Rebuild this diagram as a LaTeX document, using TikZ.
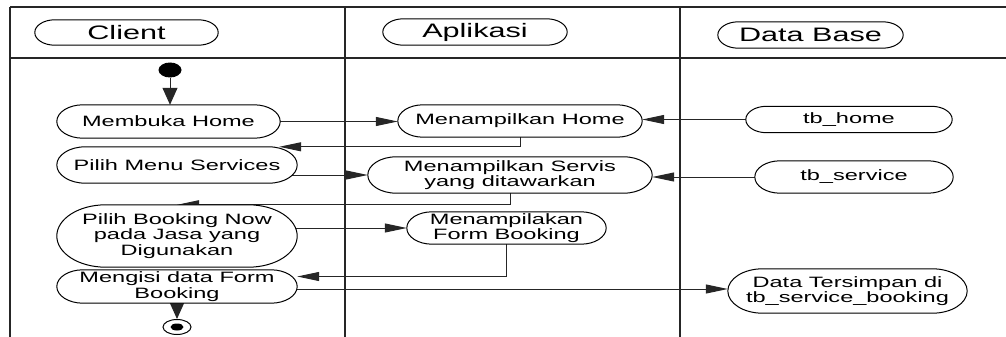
\documentclass[tikz,border=0pt]{standalone}
\usepackage{fontspec}
\setmainfont{Liberation Sans}[FakeStretch=1.57]
\usetikzlibrary{arrows.meta,calc,shapes.geometric}
\pgfdeclarelayer{lanes}
\pgfdeclarelayer{outlines}
\pgfsetlayers{lanes,outlines,main}

\tikzset{
  lane/.style={line width=1.5pt, draw=black!85},
  act/.style={rectangle, inner sep=0pt, align=center,
    font=\fontsize{15}{15.5}\selectfont},
  hdr/.style={rectangle, inner sep=0pt, font=\fontsize{19.5}{20}\selectfont},
  conn/.style={draw=black!85, line width=1pt},
  harrow/.style={conn, -{Triangle[length=22pt,width=9pt]}},
  varrow/.style={conn, -{Triangle[length=17pt,width=15pt]}},
}

% stadium outline with elliptical ends around a rectangular node
\newcommand\stadiumoutline[1]{%
  \draw[line width=1pt, fill=white] let \p1=(#1.north west), \p2=(#1.south east),
    \n1={(\y1-\y2)/2}, \n2={0.785*(\y1-\y2)} in
    (\x1+\n2,\y1) -- (\x2-\n2,\y1)
    arc[start angle=90, end angle=-90, x radius=\n2, y radius=\n1]
    -- (\x1+\n2,\y2)
    arc[start angle=270, end angle=90, x radius=\n2, y radius=\n1] -- cycle;}

\begin{document}
\begin{tikzpicture}[x=1pt, y=-1pt]
\useasboundingbox (0,0) rectangle (1006,337);

% swimlane headers
\node[hdr, minimum width=183pt, minimum height=25pt] (hc) at (126.5,32.5) {Client};
\node[hdr, minimum width=184pt, minimum height=26pt] (ha) at (475,32) {Aplikasi};
\node[hdr, minimum width=185pt, minimum height=26pt] (hd) at (810.5,35) {Data Base};

% Client activities
\node[act, minimum width=223pt, minimum height=33pt] (mb) at (168.5,121.5) {Membuka Home};
\node[act, minimum width=240pt, minimum height=36pt] (pms) at (177,165) {Pilih Menu Services};
\node[act, minimum width=240pt, minimum height=62pt] (pb) at (177,236) {Pilih Booking Now\\pada Jasa yang\\Digunakan};
\node[act, minimum width=240pt, minimum height=33pt] (mg) at (177,286.5) {Mengisi data Form\\Booking};

% Aplikasi activities
\node[act, minimum width=244pt, minimum height=32pt] (mh) at (520,121) {Menampilkan Home};
\node[act, minimum width=284pt, minimum height=36pt] (ms) at (510,175) {Menampilkan Servis\\yang ditawarkan};
\node[act, minimum width=199pt, minimum height=32pt] (mfb) at (506.5,228) {Menampilakan\\Form Booking};

% Data Base objects
\node[act, minimum width=206pt, minimum height=26pt] (tbh) at (849,119.5) {tb\_home};
\node[act, minimum width=198pt, minimum height=32pt] (tbs) at (854,177) {tb\_service};
\node[act, minimum width=239pt, minimum height=44pt] (dts) at (847.5,291) {Data Tersimpan di\\tb\_service\_booking};

% start and end states
\node[ellipse, fill=black, inner sep=0pt, minimum width=23pt, minimum height=15pt] (init) at (170,70) {};
\node[ellipse, draw, line width=1pt, fill=white, inner sep=0pt, minimum width=28pt, minimum height=15pt] (fin) at (177,327) {};
\fill (fin.center) ellipse[x radius=6.5pt, y radius=3.5pt];

\begin{pgfonlayer}{outlines}
  \foreach \nm in {hc,ha,hd,mb,pms,pb,mg,mh,ms,mfb,tbh,tbs,dts}
    {\stadiumoutline{\nm}}
\end{pgfonlayer}

\begin{pgfonlayer}{lanes}
  % lane frame
  \draw[lane] (10,7) -- (1006,7);
  \draw[lane] (10,58) -- (1006,58);
  \draw[lane] (10,7) -- (10,337);
  \draw[lane] (345,7) -- (345,337);
  \draw[lane] (680,7) -- (680,337);

  % control flow
  \draw[varrow] (init) -- (init |- mb.north);
  \draw[harrow] (mb.east) -- (mb.east -| mh.west);
  \draw[harrow] (tbh.west) -- (tbh.west -| mh.east);
  \draw[harrow] (mh.south) |- ([xshift=-18pt]pms.north east);
  \draw[harrow] (pms.center |- ms.west) -- (ms.west);
  \draw[harrow] (tbs.west) -- (tbs.west -| ms.east);
  \draw[harrow] (ms.south) |- (pb.north);
  \draw[harrow] (pb.center |- mfb.west) -- (mfb.west);
  \draw[harrow] (mfb.south) |- ([yshift=10pt]mg.east);
  \coordinate (dtsin) at ([yshift=2pt]dts.west);
  \draw[harrow] (mg.center |- dtsin) -- (dtsin);
  \draw[varrow] (mg.south) -- (fin.north);
\end{pgfonlayer}
\end{tikzpicture}
\end{document}
